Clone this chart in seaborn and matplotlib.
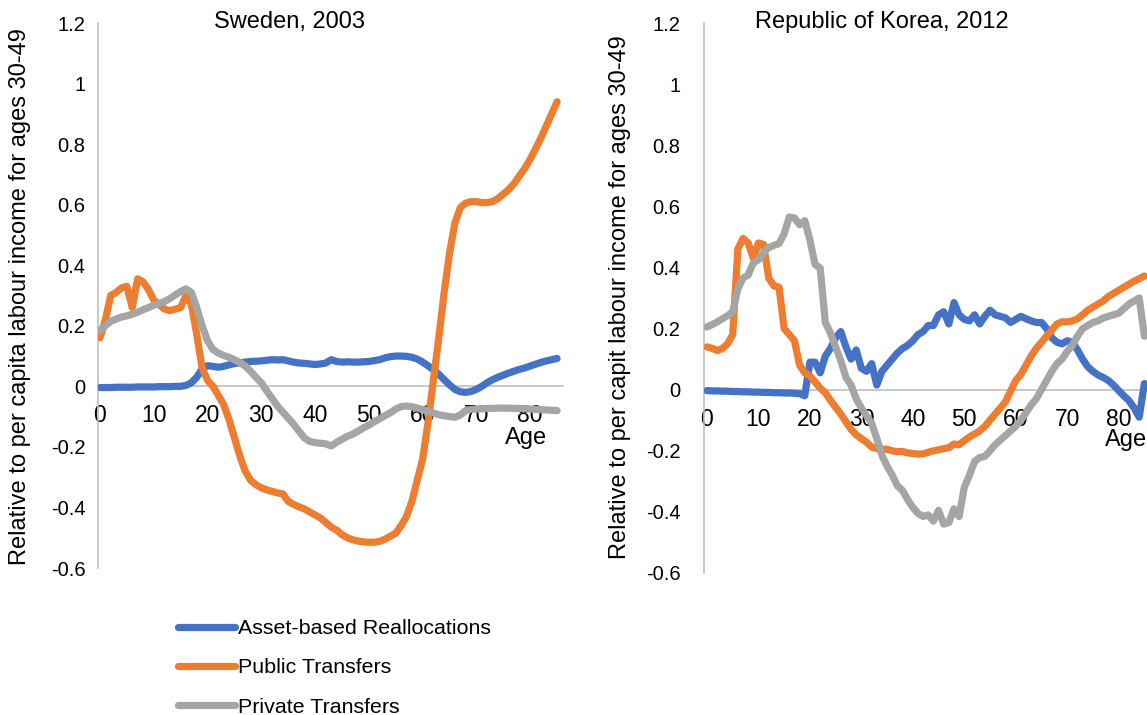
import matplotlib
matplotlib.use("Agg")
import matplotlib.pyplot as plt
import numpy as np
import pandas as pd
import seaborn as sns
from matplotlib.ticker import FuncFormatter

# ages 0..85
ages = list(range(86))

# Sweden, 2003
swe_asset = [-0.004, -0.004, -0.004, -0.003, -0.003, -0.003, -0.003, -0.002, -0.002, -0.002,
             -0.002, -0.001, -0.001, -0.001, 0.0, 0.0, 0.003, 0.012, 0.03, 0.058,
             0.068, 0.066, 0.063, 0.066, 0.071, 0.075, 0.078, 0.08, 0.082, 0.083,
             0.084, 0.086, 0.088, 0.087, 0.088, 0.084, 0.08, 0.077, 0.076, 0.074,
             0.072, 0.074, 0.077, 0.088, 0.082, 0.08, 0.081, 0.08, 0.08, 0.081,
             0.082, 0.085, 0.088, 0.094, 0.098, 0.1, 0.1, 0.099, 0.096, 0.09,
             0.08, 0.068, 0.055, 0.04, 0.022, 0.005, -0.01, -0.018, -0.02, -0.017,
             -0.01, 0.0, 0.012, 0.022, 0.03, 0.037, 0.044, 0.05, 0.056, 0.061,
             0.067, 0.073, 0.079, 0.084, 0.088, 0.092]
swe_public = [0.16, 0.22, 0.30, 0.31, 0.325, 0.33, 0.26, 0.355, 0.345, 0.32,
              0.285, 0.27, 0.255, 0.25, 0.255, 0.26, 0.30, 0.27, 0.17, 0.06,
              0.02, 0.0, -0.03, -0.06, -0.11, -0.17, -0.23, -0.28, -0.31, -0.325,
              -0.335, -0.342, -0.347, -0.352, -0.355, -0.38, -0.39, -0.398, -0.405, -0.415,
              -0.425, -0.435, -0.45, -0.465, -0.475, -0.49, -0.50, -0.507, -0.511, -0.514,
              -0.515, -0.515, -0.512, -0.505, -0.495, -0.485, -0.46, -0.43, -0.38, -0.31,
              -0.24, -0.12, 0.02, 0.16, 0.31, 0.44, 0.54, 0.59, 0.605, 0.61,
              0.61, 0.607, 0.607, 0.61, 0.62, 0.635, 0.65, 0.67, 0.695, 0.72,
              0.75, 0.785, 0.82, 0.86, 0.90, 0.94]
swe_private = [0.185, 0.20, 0.215, 0.222, 0.229, 0.233, 0.238, 0.245, 0.253, 0.26,
               0.268, 0.274, 0.28, 0.29, 0.302, 0.313, 0.322, 0.31, 0.26, 0.2,
               0.15, 0.122, 0.11, 0.102, 0.096, 0.088, 0.079, 0.067, 0.05, 0.03,
               0.012, -0.015, -0.04, -0.065, -0.085, -0.105, -0.125, -0.148, -0.17, -0.182,
               -0.186, -0.188, -0.19, -0.197, -0.185, -0.175, -0.165, -0.158, -0.148, -0.137,
               -0.128, -0.117, -0.107, -0.097, -0.087, -0.075, -0.067, -0.065, -0.067, -0.072,
               -0.077, -0.083, -0.088, -0.094, -0.097, -0.1, -0.102, -0.095, -0.08, -0.076,
               -0.075, -0.074, -0.073, -0.073, -0.072, -0.072, -0.072, -0.073, -0.073, -0.074,
               -0.075, -0.076, -0.077, -0.078, -0.079, -0.08]

# Republic of Korea, 2012
kor_asset = [-0.003, -0.004, -0.004, -0.005, -0.005, -0.006, -0.006, -0.007, -0.007, -0.008,
             -0.008, -0.009, -0.009, -0.01, -0.01, -0.011, -0.011, -0.012, -0.013, -0.02,
             0.09, 0.09, 0.055, 0.11, 0.135, 0.17, 0.19, 0.14, 0.10, 0.13,
             0.07, 0.06, 0.085, 0.015, 0.06, 0.08, 0.10, 0.12, 0.135, 0.145,
             0.16, 0.18, 0.19, 0.21, 0.21, 0.245, 0.255, 0.215, 0.285, 0.245,
             0.23, 0.225, 0.245, 0.215, 0.24, 0.26, 0.245, 0.24, 0.235, 0.22,
             0.23, 0.24, 0.232, 0.225, 0.22, 0.22, 0.2, 0.17, 0.155, 0.15,
             0.16, 0.155, 0.13, 0.1, 0.075, 0.06, 0.048, 0.04, 0.03, 0.015,
             -0.003, -0.02, -0.036, -0.06, -0.09, 0.02]
kor_public = [0.14, 0.135, 0.128, 0.135, 0.15, 0.18, 0.46, 0.495, 0.48, 0.43,
              0.48, 0.475, 0.365, 0.34, 0.335, 0.2, 0.18, 0.16, 0.08, 0.055,
              0.045, 0.025, 0.005, -0.01, -0.035, -0.058, -0.08, -0.105, -0.13, -0.148,
              -0.16, -0.172, -0.188, -0.193, -0.195, -0.195, -0.2, -0.203, -0.202, -0.207,
              -0.209, -0.211, -0.21, -0.205, -0.2, -0.197, -0.193, -0.19, -0.178, -0.18,
              -0.167, -0.155, -0.145, -0.135, -0.12, -0.10, -0.08, -0.06, -0.04, -0.005,
              0.03, 0.05, 0.08, 0.11, 0.135, 0.155, 0.175, 0.195, 0.215, 0.222,
              0.222, 0.225, 0.232, 0.245, 0.26, 0.27, 0.28, 0.29, 0.305, 0.315,
              0.325, 0.335, 0.345, 0.355, 0.363, 0.372]
kor_private = [0.205, 0.213, 0.222, 0.232, 0.242, 0.255, 0.33, 0.365, 0.375, 0.415,
               0.425, 0.45, 0.465, 0.472, 0.478, 0.51, 0.565, 0.562, 0.54, 0.553,
               0.49, 0.41, 0.398, 0.22, 0.185, 0.14, 0.095, 0.04, 0.015, -0.03,
               -0.06, -0.085, -0.11, -0.16, -0.215, -0.25, -0.28, -0.315, -0.33, -0.36,
               -0.385, -0.405, -0.415, -0.41, -0.43, -0.395, -0.44, -0.435, -0.39, -0.415,
               -0.32, -0.28, -0.235, -0.222, -0.218, -0.2, -0.18, -0.165, -0.15, -0.135,
               -0.12, -0.1, -0.075, -0.05, -0.03, 0.0, 0.03, 0.06, 0.085, 0.1,
               0.125, 0.145, 0.175, 0.2, 0.21, 0.22, 0.225, 0.235, 0.24, 0.245,
               0.25, 0.265, 0.28, 0.29, 0.3, 0.175]

series_names = ["Asset-based Reallocations", "Public Transfers", "Private Transfers"]
colors = ["#4472C4", "#ED7D31", "#A5A5A5"]

sns.set_style("white")
plt.rcParams["font.family"] = ["Liberation Sans", "DejaVu Sans"]
plt.rcParams["axes.unicode_minus"] = False
plt.rcParams["text.color"] = "black"

W, H = 1147, 715
LW = 5.2
fig = plt.figure(figsize=(W / 100, H / 100), dpi=100)


def px_axes(x0, x1, y_top, y_bot):
    return fig.add_axes([x0 / W, 1 - y_bot / H, (x1 - x0) / W, (y_bot - y_top) / H])


def style_panel(ax, xlim, ylab_pad):
    ax.set_xlim(*xlim)
    ax.set_ylim(-0.6, 1.2)
    ax.set_yticks(np.arange(-0.6, 1.21, 0.2))
    ax.yaxis.set_major_formatter(FuncFormatter(lambda v, p: "{:g}".format(round(v, 1))))
    ax.set_xticks(range(0, 81, 10))
    for s in ["top", "right"]:
        ax.spines[s].set_visible(False)
    ax.spines["bottom"].set_position(("data", 0))
    for s in ["left", "bottom"]:
        ax.spines[s].set_color("#BFBFBF")
        ax.spines[s].set_linewidth(1.2)
        ax.spines[s].set_zorder(1)
    ax.tick_params(axis="y", length=5, width=1.2, color="#BFBFBF",
                   labelsize=14.5, pad=ylab_pad, labelcolor="black")
    ax.tick_params(axis="x", length=5, width=1.2, color="#BFBFBF",
                   labelsize=16.5, pad=8, labelcolor="black", direction="out")
    ax.set_xlabel("")
    ax.set_ylabel("")
    ax.patch.set_alpha(0)


def draw(ax, values):
    df = pd.DataFrame({"Age": ages * 3,
                       "value": values[0] + values[1] + values[2],
                       "series": np.repeat(series_names, len(ages))})
    sns.lineplot(data=df, x="Age", y="value", hue="series", palette=colors,
                 hue_order=series_names, linewidth=LW, ax=ax, legend=False,
                 zorder=3)
    for ln in ax.get_lines():
        ln.set_solid_capstyle("round")
        ln.set_solid_joinstyle("round")


ax1 = px_axes(98, 563, 23, 568)
draw(ax1, [swe_asset, swe_public, swe_private])
style_panel(ax1, (-0.37, 86.1), 4)

ax2 = px_axes(704, 1149, 23, 573)
draw(ax2, [kor_asset, kor_public, kor_private])
style_panel(ax2, (-0.58, 85.9), 12)

# titles, axis labels
fig.text(290 / W, 1 - 22 / H, "Sweden, 2003", ha="center", va="center", fontsize=17)
fig.text(882 / W, 1 - 22 / H, "Republic of Korea, 2012", ha="center", va="center", fontsize=17)
fig.text(20 / W, 1 - 297 / H, "Relative to per capita labour income for ages 30-49",
         rotation=90, ha="center", va="center", fontsize=17)
fig.text(620 / W, 1 - 297 / H, "Relative to per capit labour income for ages 30-49",
         rotation=90, ha="center", va="center", fontsize=17)
fig.text(526 / W, 1 - 438 / H, "Age", ha="center", va="center", fontsize=17)
fig.text(1105 / W, 1 - 440 / H, "Age", ha="left", va="center", fontsize=17)

handles = [plt.Line2D([], [], color=c, linewidth=LW, solid_capstyle="round") for c in colors]
fig.legend(handles, series_names, loc="upper left", bbox_to_anchor=(178 / W, 1 - 619 / H),
           frameon=False, fontsize=15.4, handlelength=2.65, handletextpad=0.15,
           labelspacing=0.95, borderpad=0, borderaxespad=0)

fig.savefig("out.png", dpi=100)
